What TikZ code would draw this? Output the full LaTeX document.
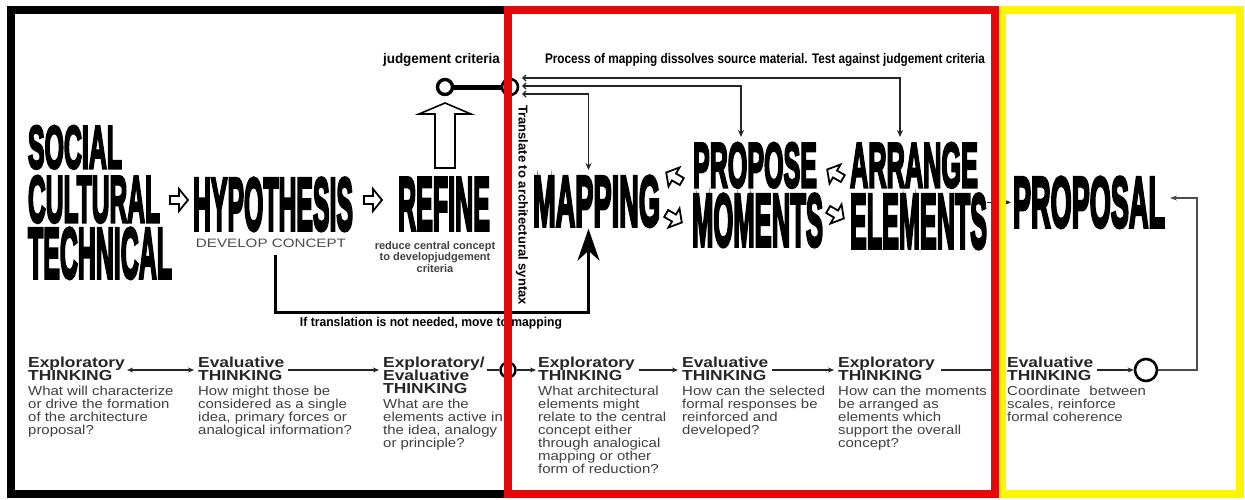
\documentclass[tikz,border=0pt]{standalone}
\usepackage{fontspec}
\usepackage{graphicx}
\setmainfont{Liberation Sans}
\newfontfamily\heavyfont[FakeBold=5]{Liberation Sans}
\newfontfamily\widefont[FakeStretch=1.15]{Liberation Sans}
\newfontfamily\widebold[FakeStretch=1.2]{Liberation Sans}
\usetikzlibrary{arrows.meta,calc}
\definecolor{redF}{RGB}{228,8,10}
\definecolor{yellowF}{RGB}{255,245,0}
\newcommand{\bigword}[3]{\resizebox{#1pt}{#2pt}{\heavyfont\bfseries #3}}
\newcommand{\fitlab}[3]{\resizebox*{#1pt}{#2pt}{\bfseries #3}}
\newcommand{\stacklines}[2]{\vtop{\baselineskip=#1pt\lineskiplimit=-100pt\lineskip=0pt\halign{##\hfil\cr#2\crcr}}}
\newcommand{\ttlfont}{\fontsize{14.5}{12.5}\selectfont\widebold\bfseries}
\newcommand{\dscfont}{\fontsize{13}{13}\selectfont\widefont}
\tikzset{
  big/.style={anchor=north west, inner sep=0pt, outer sep=0pt},
  lab/.style={inner sep=0pt, text=black},
  hollow/.style={draw=black, line width=1.8pt, fill=white, line join=miter},
  conn/.style={draw=black!85, line width=1.4pt},
  tip/.style={-{Stealth[length=6pt,width=5pt]}},
  ring/.style={circle, draw=black, line width=2.6pt, inner sep=0pt, fill=white},
  frame/.style={line width=8pt},
  ttl/.style={anchor=base west, inner sep=0pt, text=black!85, font=\ttlfont},
  dsc/.style={anchor=base west, inner sep=0pt, text=black!75, font=\dscfont},
  harrow/.pic={\path[hollow] (-9,-4) -- (0,-4) -- (0,-11) -- (9,0) -- (0,11) -- (0,4) -- (-9,4) -- cycle;}
}
\begin{document}
\begin{tikzpicture}[x=1pt,y=-1pt]
\useasboundingbox (0,0) rectangle (1245,499);
\fill[white] (0,0) rectangle (1245,499);

% big words
\node[big] (soc) at (28,126) {\bigword{94}{42}{SOCIAL}};
\node[big] (cul) at (28,176) {\bigword{132}{46}{CULTURAL}};
\node[big] (tec) at (28,228) {\bigword{144}{50}{TECHNICAL}};
\node[big] (hyp) at (193,178) {\bigword{160}{52}{HYPOTHESIS}};
\node[big] (ref) at (398,178) {\bigword{92}{52}{REFINE}};
\node[big] (map) at (533,176) {\bigword{127}{50}{MAPPING}};
\node[big] (pro) at (693,143) {\bigword{124}{44}{PROPOSE}};
\node[big] (mom) at (692,194) {\bigword{131}{52}{MOMENTS}};
\node[big] (arr) at (850,143) {\bigword{128}{44}{ARRANGE}};
\node[big] (ele) at (850,194) {\bigword{137}{54}{ELEMENTS}};
\node[big] (prl) at (1013,177) {\bigword{152}{50}{PROPOSAL}};

% hollow arrows between words
\pic at (179,200) {harrow};
\pic at (373,200) {harrow};
\pic[rotate=150] at (674,177) {harrow};
\pic[rotate=-30] at (674,218) {harrow};
\pic[rotate=150] at (835,174) {harrow};
\pic[rotate=-30] at (836,214) {harrow};

% sub labels
\node[lab, text=black!70] (dev) at (271,243) {\resizebox{150pt}{8.5pt}{DEVELOP CONCEPT}};
\node[lab, text=black!75, align=center, font={\fontsize{11}{11.5}\selectfont\bfseries}] (red) at (435,257) {reduce central concept\\to developjudgement\\criteria};

% judgement criteria
\node[lab] (jcl) at (441.5,59.5) {\fitlab{117}{13}{judgement criteria}};
\node[lab] (proc) at (765,59.5) {\fitlab{440}{13}{Process of mapping dissolves source material. Test against judgement criteria}};
\node[ring, minimum size=15pt, line width=3.4pt] (jc1) at (445,87) {};
\node[ring, minimum size=16pt] (jc2) at (510,87) {};
\draw[line width=5pt] (jc1.east) -- (jc2.west);
\path[hollow, line width=1.6pt] (445,103) -- (471,114) -- (455,114) -- (455,168) -- (435,168) -- (435,114) -- (419,114) -- cycle;
\node[lab, rotate=-90] (trn) at (522,205) {\fitlab{200}{12}{Translate to architectural syntax}};

\coordinate (s1) at (522,78);
\coordinate (s2) at (522,86);
\coordinate (s3) at (522,94);
\draw[conn, {Straight Barb[length=3pt,width=6pt]}-{Stealth[length=7pt,width=6pt]}] (s1) -| ([xshift=-14pt,yshift=6pt]arr.north);
\draw[conn, {Straight Barb[length=3pt,width=6pt]}-{Stealth[length=7pt,width=6pt]}] (s2) -| ([xshift=-14pt,yshift=6pt]pro.north);
\draw[conn, {Straight Barb[length=3pt,width=6pt]}-{Stealth[length=7pt,width=6pt]}] (s3) -| ([xshift=-8pt,yshift=6pt]map.north);

% hook from hypothesis to mapping
\coordinate (hk) at (430,312);
\draw[line width=3pt, -{Stealth[length=32pt,width=22pt,inset=10pt]}] ([xshift=4pt,yshift=-7pt]dev.south) |- (hk) -| ([xshift=-8pt,yshift=-2pt]map.south);
\node[lab] (ift) at (431,323.5) {\fitlab{262}{12}{If translation is not needed, move to mapping}};

% into proposal
\draw[conn, tip] (ele.east |- prl.west) -- ([xshift=-2pt]prl.west);

% bottom row
\node[ttl] (t1) at (28,367.5) {\stacklines{12.5}{Exploratory\cr THINKING}};
\node[dsc] (d1) at (28,395) {\stacklines{13}{What will characterize\cr or drive the formation\cr of the architecture\cr proposal?}};
\node[ttl] (t2) at (198,367.5) {\stacklines{12.5}{Evaluative\cr THINKING}};
\node[dsc] (d2) at (198,395) {\stacklines{13}{How might those be\cr considered as a single\cr idea, primary forces or\cr analogical information?}};
\node[ttl] (t3) at (383,367.5) {\stacklines{13}{Exploratory/\cr Evaluative\cr THINKING}};
\node[dsc] (d3) at (383,408) {\stacklines{13}{What are the\cr elements active in\cr the idea, analogy\cr or principle?}};
\node[ttl] (t4) at (538,367.5) {\stacklines{12.5}{Exploratory\cr THINKING}};
\node[dsc] (d4) at (538,395) {\stacklines{13}{What architectural\cr elements might\cr relate to the central\cr concept either\cr through analogical\cr mapping or other\cr form of reduction?}};
\node[ttl] (t5) at (682,367.5) {\stacklines{12.5}{Evaluative\cr THINKING}};
\node[dsc] (d5) at (682,395) {\stacklines{13}{How can the selected\cr formal responses be\cr reinforced and\cr developed?}};
\node[ttl] (t6) at (838,367.5) {\stacklines{12.5}{Exploratory\cr THINKING}};
\node[dsc] (d6) at (838,395) {\stacklines{13}{How can the moments\cr be arranged as\cr elements which\cr support the overall\cr concept?}};
\node[ttl] (t7) at (1007,367.5) {\stacklines{12.5}{Evaluative\cr THINKING}};
\node[dsc] (d7) at (1007,395) {\stacklines{13}{Coordinate\hspace{5pt} between\cr scales, reinforce\cr formal coherence}};

\node[ring, minimum size=15pt, line width=2.4pt] (c1) at (508,370) {};
\node[ring, minimum size=22pt, line width=2.6pt] (c2) at (1146,370) {};
\coordinate (ex1) at (997,370);
\coordinate (lp) at (1197,198);

\draw[conn, {Stealth[length=6pt,width=5pt]}-{Stealth[length=6pt,width=5pt]}] ([xshift=2pt]c1 -| t1.east) -- ([xshift=-4pt]c1 -| t2.west);
\draw[conn, tip] ([xshift=4pt]c1 -| t2.east) -- ([xshift=-4pt]c1 -| t3.west);
\draw[conn] ([xshift=2pt]c1 -| t3.east) -- (c1.west);
\draw[conn, tip] (c1.east) -- ([xshift=-2pt]c1 -| t4.west);
\draw[conn, tip] ([xshift=4pt]c1 -| t4.east) -- ([xshift=-4pt]c1 -| t5.west);
\draw[conn, tip] ([xshift=4pt]c1 -| t5.east) -- ([xshift=-4pt]c1 -| t6.west);
\draw[conn] ([xshift=6pt]c1 -| t6.east) -- (ex1);
\draw[conn, tip] ([xshift=4pt]c1 -| t7.east) -- (c2.west);
\draw[conn, draw=black!70, -{Stealth[length=7pt,width=5pt]}, shorten >=5pt] (c2.east) -| (lp) -- (lp -| prl.east);

% frames
\draw[frame, draw=black] (11,10) rectangle (508,494);
\draw[frame, draw=yellowF] (1002,10) rectangle (1240,494);
\draw[frame, draw=redF] (508,10) rectangle (995,494);
\end{tikzpicture}
\end{document}
